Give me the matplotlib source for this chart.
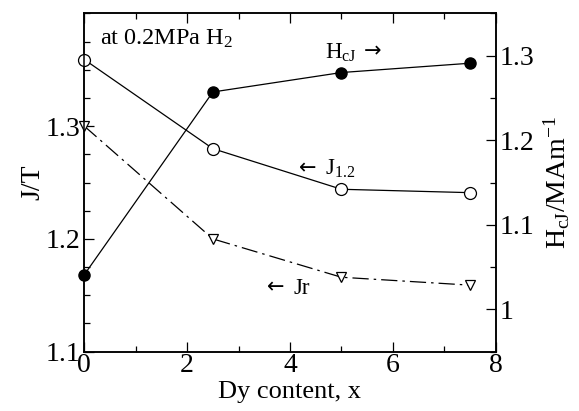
import matplotlib
matplotlib.use('Agg')
import matplotlib.pyplot as plt
from matplotlib.ticker import MultipleLocator, FixedLocator

plt.rcParams['font.family'] = ['Liberation Serif', 'DejaVu Serif']
plt.rcParams['mathtext.fontset'] = 'custom'
plt.rcParams['mathtext.rm'] = 'Liberation Serif'
plt.rcParams['mathtext.it'] = 'Liberation Serif:italic'

# Dy content
dy = [0, 2.5, 5, 7.5]
# J values (left axis, T)
j12 = [1.359, 1.280, 1.244, 1.241]
jr = [1.300, 1.200, 1.166, 1.159]
# coercivity (right axis, MA/m)
hcj = [1.041, 1.257, 1.280, 1.291]

fig = plt.figure(figsize=(5.79, 4.11), dpi=100)
ax = fig.add_axes([0.1456, 0.1443, 0.8561 - 0.1456, 0.9676 - 0.1443])
ax2 = ax.twinx()

lw = 0.9
ax.plot(dy, j12, color='black', lw=lw, marker='o', ms=8.6, mfc='white',
        mec='black', mew=0.9, clip_on=False, zorder=3)
ax.plot(dy, jr, color='black', lw=lw, marker='v', ms=7.5, mfc='white',
        mec='black', mew=0.9, clip_on=False, zorder=3,
        dashes=(13, 4, 2, 4))
ax2.plot(dy, hcj, color='black', lw=lw, marker='o', ms=8, mfc='black',
         mec='black', clip_on=False, zorder=3)

ax.set_xlim(0, 8)
ax.set_ylim(1.1, 1.4)
ax2.set_ylim(0.95, 1.35)

ax.xaxis.set_major_locator(MultipleLocator(2))
ax.xaxis.set_minor_locator(MultipleLocator(1))
ax.yaxis.set_major_locator(FixedLocator([1.1, 1.2, 1.3]))
ax.yaxis.set_minor_locator(MultipleLocator(0.025))
ax2.yaxis.set_major_locator(MultipleLocator(0.1))
ax2.yaxis.set_minor_locator(MultipleLocator(0.05))
ax.yaxis.set_major_formatter(plt.FuncFormatter(lambda v, p: '%g' % round(v, 2)))
ax2.yaxis.set_major_formatter(plt.FuncFormatter(lambda v, p: '%g' % round(v, 2)))

ax.tick_params(axis='x', which='both', direction='in', top=True, bottom=True,
               labelsize=20, pad=1)
ax.tick_params(axis='y', which='both', direction='in', left=True, right=False,
               labelsize=20, pad=3)
ax2.tick_params(axis='y', which='both', direction='in', left=False, right=True,
                labelsize=20, pad=3)
for a in (ax, ax2):
    a.tick_params(which='major', length=7.5, width=0.9)
    a.tick_params(which='minor', length=4, width=0.9)
    for s in a.spines.values():
        s.set_linewidth(1.1)

ax.set_xlabel('Dy content, x', fontsize=19, labelpad=2)
ax.set_ylabel('J/T', fontsize=20, labelpad=0)
ax2.set_ylabel(r'H$_{\mathrm{cJ}}$/MAm$^{\mathrm{-1}}$', fontsize=20, labelpad=5)

arrow_font = 'DejaVu Sans'
ax.text(0.31, 1.372, r'at 0.2MPa H$_2$', fontsize=17.5, va='baseline')

ax.text(4.68, 1.360, r'H$_{\mathrm{cJ}}$', fontsize=16.5, va='baseline')
ax.text(5.44, 1.361, '\u2192', fontsize=15, va='baseline', family=arrow_font)

ax.text(4.18, 1.2576, '\u2190', fontsize=15, va='baseline', family=arrow_font)
ax.text(4.68, 1.2566, r'J$_{1.2}$', fontsize=16.5, va='baseline')

ax.text(3.55, 1.152, '\u2190', fontsize=15, va='baseline', family=arrow_font)
ax.text(4.06, 1.151, 'Jr', fontsize=16.5, va='baseline')

fig.savefig('out.png', dpi=100)
